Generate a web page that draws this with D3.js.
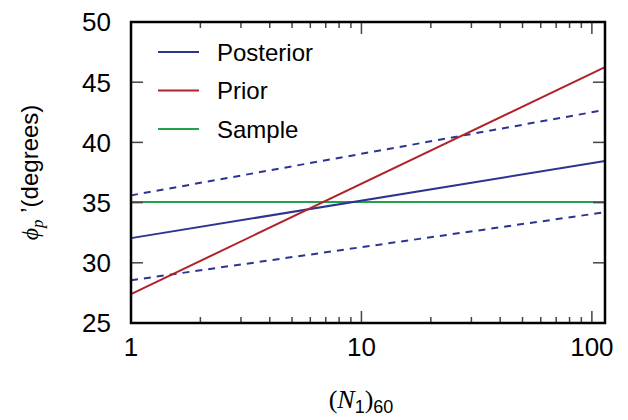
<!DOCTYPE html>
<html>
<head>
<meta charset="utf-8">
<script src="https://cdn.jsdelivr.net/npm/d3@7"></script>
<style>
  html, body { margin: 0; padding: 0; background: #fff; }
  svg { display: block; }
</style>
</head>
<body>
<svg id="chart" width="628" height="420"></svg>
<script>
// Endpoints of each line (straight on a log-x axis)
const xDomain = [1, 114];
const nValues = [1, 114];
const posterior = [32.05, 38.45];
const posteriorUpper = [35.6, 42.7];
const posteriorLower = [28.55, 34.2];
const prior = [27.4, 46.25];
const sample = [35.05, 35.05];

const yTicks = [25, 30, 35, 40, 45, 50];
const xMajorTicks = [1, 10, 100];
const xMinorTicks = [2, 3, 4, 5, 6, 7, 8, 9, 20, 30, 40, 50, 60, 70, 80, 90];

const legendItems = [
  { label: "Posterior", color: "#2b3591" },
  { label: "Prior", color: "#b0232a" },
  { label: "Sample", color: "#22a24f" }
];

const margin = { left: 131, right: 23, top: 22, bottom: 97 };
const W = 628, H = 420;
const svg = d3.select("#chart");

const x = d3.scaleLog().domain(xDomain).range([margin.left, W - margin.right]);
const y = d3.scaleLinear().domain([25, 50]).range([H - margin.bottom, margin.top]);

const font = "'Liberation Sans', Arial, Helvetica, sans-serif";
const serif = "'Liberation Serif', 'Times New Roman', serif";

// Lines
const line = d3.line().x(d => x(d[0])).y(d => y(d[1]));
const series = [
  { v: posteriorUpper, color: "#2b3591", dash: "7,6" },
  { v: posteriorLower, color: "#2b3591", dash: "7,6" },
  { v: sample, color: "#22a24f", dash: null },
  { v: posterior, color: "#2b3591", dash: null },
  { v: prior, color: "#b0232a", dash: null }
];
const plot = svg.append("g");
plot.selectAll("path.series")
  .data(series)
  .enter().append("path")
  .attr("class", "series")
  .attr("fill", "none")
  .attr("stroke", d => d.color)
  .attr("stroke-width", 2)
  .attr("stroke-dasharray", d => d.dash)
  .attr("d", d => line(nValues.map((n, i) => [n, d.v[i]])));

// Tick marks drawn inward on all four sides
const x0 = x.range()[0], x1 = x.range()[1];
const y0 = y.range()[0], y1 = y.range()[1];
const tickG = svg.append("g").attr("stroke", "#444").attr("stroke-width", 1.5);
yTicks.slice(1, -1).forEach(t => {
  tickG.append("line").attr("x1", x0).attr("x2", x0 + 12).attr("y1", y(t)).attr("y2", y(t));
  tickG.append("line").attr("x1", x1).attr("x2", x1 - 12).attr("y1", y(t)).attr("y2", y(t));
});
xMajorTicks.slice(1).forEach(t => {
  tickG.append("line").attr("x1", x(t)).attr("x2", x(t)).attr("y1", y0).attr("y2", y0 - 12);
  tickG.append("line").attr("x1", x(t)).attr("x2", x(t)).attr("y1", y1).attr("y2", y1 + 12);
});
xMinorTicks.forEach(t => {
  tickG.append("line").attr("x1", x(t)).attr("x2", x(t)).attr("y1", y0).attr("y2", y0 - 6);
  tickG.append("line").attr("x1", x(t)).attr("x2", x(t)).attr("y1", y1).attr("y2", y1 + 6);
});

// Frame
svg.append("rect")
  .attr("x", x0).attr("y", y1)
  .attr("width", x1 - x0).attr("height", y0 - y1)
  .attr("fill", "none").attr("stroke", "#000").attr("stroke-width", 2.5);

// Tick labels
svg.append("g").selectAll("text")
  .data(yTicks).enter().append("text")
  .attr("x", x0 - 20).attr("y", d => y(d))
  .attr("dy", "0.36em")
  .attr("text-anchor", "end")
  .attr("font-family", font).attr("font-size", 26)
  .text(d => d);
svg.append("g").selectAll("text")
  .data(xMajorTicks).enter().append("text")
  .attr("x", d => x(d)).attr("y", y0 + 33)
  .attr("text-anchor", "middle")
  .attr("font-family", font).attr("font-size", 26)
  .text(d => d);

// Legend
const leg = svg.append("g");
legendItems.forEach((item, i) => {
  const ly = 52 + i * 38.5;
  leg.append("line").attr("x1", 158).attr("x2", 199).attr("y1", ly).attr("y2", ly)
    .attr("stroke", item.color).attr("stroke-width", 2);
  leg.append("text").attr("x", 217).attr("y", ly).attr("dy", "0.36em")
    .attr("font-family", font).attr("font-size", 24).text(item.label);
});

// X axis title: (N1)60
const xt = svg.append("text")
  .attr("x", (x0 + x1) / 2 - 7).attr("y", 408)
  .attr("text-anchor", "middle")
  .attr("font-size", 26);
xt.append("tspan").attr("font-family", serif).text("(");
xt.append("tspan").attr("font-family", serif).attr("font-style", "italic").text("N");
xt.append("tspan").attr("font-family", font).attr("font-size", 18).attr("dy", 5).text("1");
xt.append("tspan").attr("font-family", serif).attr("dy", -5).text(")");
xt.append("tspan").attr("font-family", font).attr("font-size", 18).attr("dy", 5).text("60");

// Y axis title: ϕp '(degrees)
const yt = svg.append("text")
  .attr("transform", `translate(38, ${(y0 + y1) / 2}) rotate(-90)`)
  .attr("text-anchor", "middle")
  .attr("font-size", 24);
yt.append("tspan").attr("font-family", serif).attr("font-style", "italic").text("ϕ");
yt.append("tspan").attr("font-family", serif).attr("font-style", "italic").attr("font-size", 17).attr("dy", 5).text("p");
yt.append("tspan").attr("font-family", font).attr("dy", -5).text(" ’(degrees)");
</script>
</body>
</html>
